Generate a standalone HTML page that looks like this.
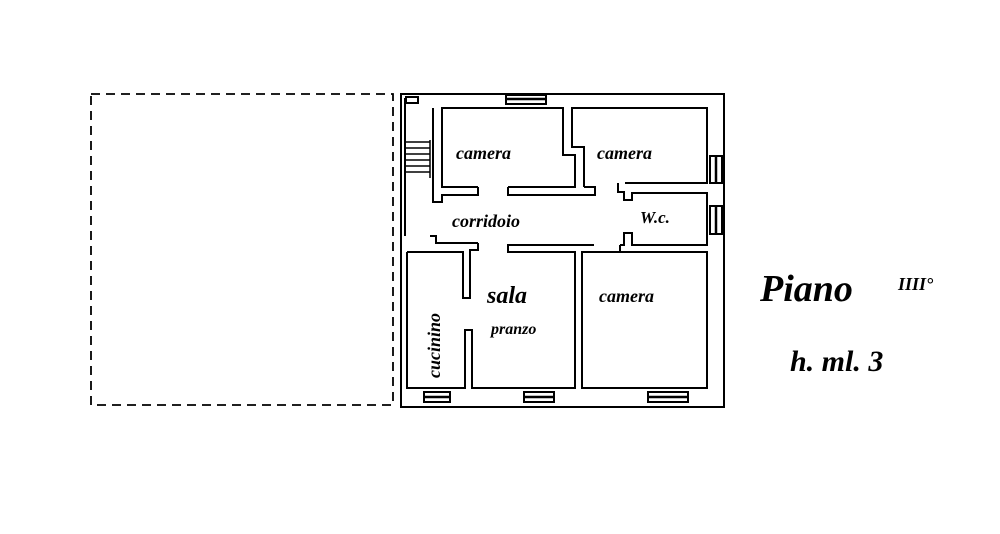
<!DOCTYPE html>
<html><head><meta charset="utf-8"><style>
html,body{margin:0;padding:0;background:#fff;}
svg{display:block}
text{font-family:"Liberation Serif",serif;font-style:italic;font-weight:bold;fill:#000}
</style></head><body>
<svg width="1000" height="534" viewBox="0 0 1000 534" xmlns="http://www.w3.org/2000/svg">
<g fill="none" stroke="#000" stroke-width="2">
<rect x="91" y="94" width="302" height="311" stroke-dasharray="9,6" stroke-width="1.8"/>
<rect x="401" y="94" width="323" height="313"/>
<path d="M478,187 L442,187 L442,108 L563,108 L563,155 L575,155 L575,187 L508,187"/>
<path d="M433,108 L433,202 L442,202 L442,195 L478,195 L478,187 M508,187 L508,195 L595,195 L595,187 L584,187"/>
<path d="M584,187 L584,147 L572,147 L572,108 L707,108 L707,183 L625,183"/>
<path d="M618,183 L618,192 L624,192 L624,200 L632,200 L632,193 L707,193 L707,245 L632,245 L632,233 L624,233 L624,245 L620,245"/>
<path d="M405,98 L405,236 M430,236 L436,236 L436,243 L478,243"/>
<path d="M407,252 L463,252 L463,298 L470,298 L470,250 L478,250 L478,243 M407,252 L407,388 L465,388 L465,330 L472,330 L472,388 L575,388 L575,252 L508,252 L508,245 L594,245"/>
<path d="M582,252 L707,252 L707,388 L582,388 Z M620,252 L620,245"/>
<rect x="506" y="95" width="40" height="9"/><rect x="710" y="156" width="12" height="27"/><rect x="710" y="206" width="12" height="28"/>
<rect x="424" y="392" width="26" height="10"/><rect x="524" y="392" width="30" height="10"/><rect x="648" y="392" width="40" height="10"/>
<rect x="406" y="97" width="12" height="6"/>
</g>
<g stroke="#000" stroke-width="2.5">
<line x1="506" y1="99" x2="546" y2="99"/><line x1="716" y1="156" x2="716" y2="183"/><line x1="716" y1="206" x2="716" y2="234"/>
<line x1="424" y1="397" x2="450" y2="397"/><line x1="524" y1="397" x2="554" y2="397"/><line x1="648" y1="397" x2="688" y2="397"/>
</g>
<g stroke="#000" stroke-width="1.5">
<line x1="404" y1="142" x2="430" y2="142"/><line x1="404" y1="148" x2="430" y2="148"/><line x1="404" y1="154" x2="430" y2="154"/><line x1="404" y1="160" x2="430" y2="160"/><line x1="404" y1="166" x2="430" y2="166"/><line x1="404" y1="172" x2="430" y2="172"/><line x1="430" y1="140" x2="430" y2="178"/>
</g>
<text x="456" y="159" font-size="18">camera</text>
<text x="597" y="159" font-size="18">camera</text>
<text x="452" y="227" font-size="18">corridoio</text>
<text x="640" y="223" font-size="17">W.c.</text>
<text x="487" y="303" font-size="24">sala</text>
<text x="491" y="334" font-size="16">pranzo</text>
<text x="599" y="302" font-size="18">camera</text>
<text transform="translate(440,378) rotate(-90)" font-size="18">cucinino</text>
<text x="760" y="301" font-size="38">Piano</text>
<text x="898" y="290" font-size="18">IIII°</text>
<text x="790" y="371" font-size="30">h. ml. 3</text>
</svg>
</body></html>
